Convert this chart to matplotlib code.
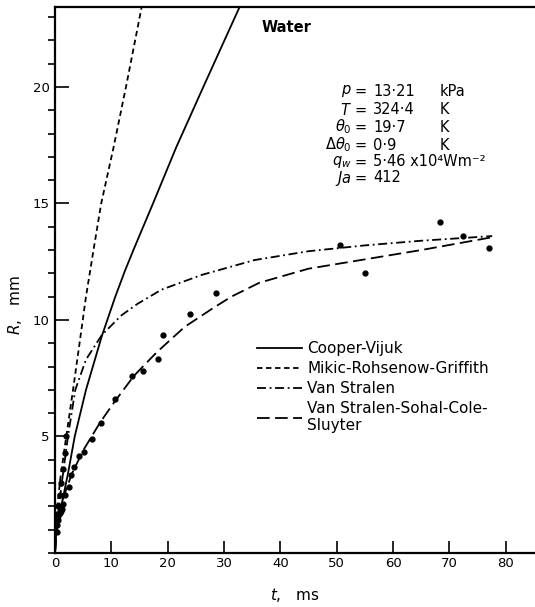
import numpy as np
import matplotlib
matplotlib.use("Agg")
import matplotlib.pyplot as plt
from matplotlib.ticker import MultipleLocator

# (t in ms, R in mm)
cv_t = [0, 0.2, 1.1, 2.3, 3.5, 5.5, 8.3, 10.7, 12.4, 14.0, 17.4, 21.5, 26.7, 32.8]
cv_R = [0, 0.8, 2.0, 3.4, 5.0, 7.0, 9.3, 11.0, 12.1, 13.05, 15.0, 17.4, 20.2, 23.45]

mrg_t = [0, 0.15, 0.4, 1.0, 2.0, 3.2, 4.3, 5.5, 6.8, 8.2, 10.3, 12.6, 15.4]
mrg_R = [0, 1.0, 2.0, 3.3, 5.0, 7.0, 8.9, 11.0, 12.95, 15.0, 17.3, 20.0, 23.45]

vs_t = [0, 0.3, 1.2, 2.3, 3.6, 5.5, 8.3, 11.8, 14.7, 18.9, 26.0, 35.4, 45, 55, 65, 77.6]
vs_R = [0, 1.2, 3.0, 5.0, 7.0, 8.3, 9.35, 10.2, 10.7, 11.3, 11.93, 12.57, 12.95, 13.2, 13.4, 13.6]

vssc_t = [0, 0.5, 1.5, 3.0, 5.0, 8.0, 10.6, 14.0, 18.0, 23.0, 28.0, 31.3, 36.3, 45, 55, 65, 77.6]
vssc_R = [0, 1.4, 2.4, 3.4, 4.4, 5.6, 6.5, 7.6, 8.6, 9.7, 10.5, 11.0, 11.6, 12.2, 12.6, 13.0, 13.55]

exp_t = [0.3, 0.4, 0.5, 0.6, 0.8, 1.0, 1.2, 1.4, 1.7, 2.4, 2.9, 3.3, 4.2, 5.2, 6.6, 8.2,
         10.6, 13.6, 15.6, 18.3, 19.1, 23.9, 28.5, 50.6, 55.0, 68.4, 72.4, 77.1,
         0.5, 0.8, 1.1, 1.4, 1.7, 2.0]
exp_R = [0.9, 1.2, 1.4, 1.6, 1.7, 1.8, 1.9, 2.1, 2.5, 2.85, 3.35, 3.7, 4.16, 4.35, 4.9, 5.6,
         6.6, 7.6, 7.8, 8.31, 9.36, 10.26, 11.15, 13.2, 12.0, 14.2, 13.6, 13.1,
         2.0, 2.5, 3.0, 3.6, 4.3, 5.0]

params = [("$p$", "13\u00b721", "kPa"),
          ("$T$", "324\u00b74", "K"),
          (r"$\theta_0$", "19\u00b77", "K"),
          (r"$\Delta\theta_0$", "0\u00b79", "K"),
          ("$q_w$", "5\u00b746 x10\u2074Wm\u207b\u00b2", ""),
          ("$Ja$", "412", "")]

W, H = 535, 607
fig = plt.figure(figsize=(W / 100, H / 100), dpi=100)
ax = fig.add_axes([55 / W, 1 - 553 / H, 480 / W, 546 / H])

lw = 1.3
ax.plot(cv_t, cv_R, color="black", lw=lw, label="Cooper-Vijuk")
ax.plot(mrg_t, mrg_R, color="black", lw=lw, dashes=(3, 2), label="Mikic-Rohsenow-Griffith")
ax.plot(vs_t, vs_R, color="black", lw=lw, dashes=(5, 2, 1, 2), label="Van Stralen")
ax.plot(vssc_t, vssc_R, color="black", lw=lw, dashes=(7, 3),
        label="Van Stralen-Sohal-Cole-\nSluyter")
ax.plot(exp_t, exp_R, "o", color="black", ms=3.5, ls="none")

ax.set_xlim(0, 85.2)
ax.set_ylim(0, 23.43)
ax.xaxis.set_major_locator(MultipleLocator(10))
ax.yaxis.set_minor_locator(MultipleLocator(1))
ax.set_yticks([5, 10, 15, 20])
ax.set_yticklabels(["5", "10", "15", "20"])
ax.tick_params(direction="in", labelsize=9.5, width=1.2)
ax.tick_params(axis="x", which="major", length=9, pad=3)
ax.tick_params(axis="y", which="major", length=10, pad=4)
ax.tick_params(axis="y", which="minor", length=5, width=1.2)

ax.spines["right"].set_visible(False)
for s in ["left", "bottom", "top"]:
    ax.spines[s].set_linewidth(1.6)

fig.text(295 / W, 1 - 595 / H, "$t$,   ms", fontsize=11, ha="center", va="center")
fig.text(15 / W, 1 - 305 / H, "$R$,   mm", fontsize=11, ha="center", va="center",
         rotation=90)

ax.legend(loc="upper left", bbox_to_anchor=(0.42, 0.388), frameon=False,
          fontsize=11, handlelength=3.0, handletextpad=0.3, labelspacing=0.32,
          borderpad=0, borderaxespad=0)

fig.text(262 / W, 1 - 28 / H, "Water", fontsize=10.5, fontweight="bold", va="center")

row_y = [91, 110, 127, 145, 162, 178]
for (sym, val, unit), y in zip(params, row_y):
    fig.text(352 / W, 1 - y / H, sym, fontsize=10.5, ha="right", va="center")
    fig.text(355 / W, 1 - y / H, "=", fontsize=10.5, ha="left", va="center")
    fig.text(373 / W, 1 - y / H, val, fontsize=10.5, ha="left", va="center")
    if unit:
        fig.text(440 / W, 1 - y / H, unit, fontsize=10.5, ha="left", va="center")

fig.savefig("out.png", dpi=100)
